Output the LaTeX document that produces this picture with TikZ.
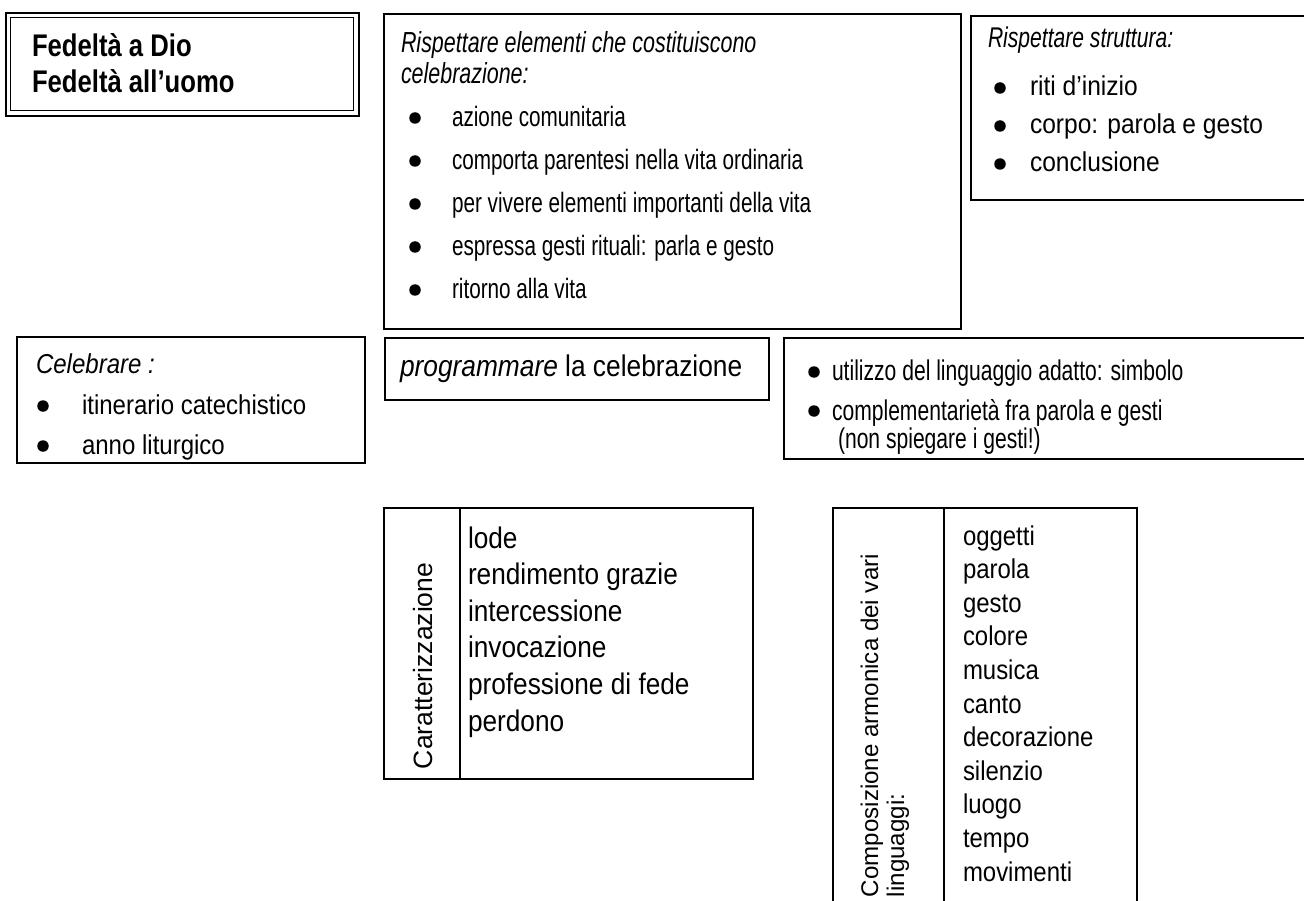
\documentclass[tikz,border=0pt]{standalone}
\usepackage{fontspec}
\setmainfont{Liberation Sans}[FakeStretch=0.88]
\newfontfamily\narrowfont{Liberation Sans}[FakeStretch=0.82]
\newfontfamily\condfont{Liberation Sans}[FakeStretch=0.74]
\newfontfamily\midfont{Liberation Sans}[FakeStretch=0.9]
\newfontfamily\rotfont{Liberation Sans}
\newcommand\fstitle{\narrowfont\bfseries\fontsize{31.3}{36}\selectfont}
\newcommand\fsbhead{\condfont\itshape\fontsize{29}{32}\selectfont}
\newcommand\fsbitem{\condfont\fontsize{28}{31}\selectfont}
\newcommand\fsshead{\condfont\itshape\fontsize{28.5}{31}\selectfont}
\newcommand\fssitem{\midfont\fontsize{27.3}{31}\selectfont}
\newcommand\fsbody{\fontsize{27.3}{31}\selectfont}
\newcommand\fsbul{\condfont\fontsize{28.5}{32}\selectfont}
\newcommand\fsprog{\fontsize{29.9}{34}\selectfont}
\newcommand\fsleft{\fontsize{29.8}{34}\selectfont}
\newcommand\fsright{\fontsize{27.2}{31}\selectfont}
\newcommand\fsrotA{\rotfont\fontsize{26.5}{29}\selectfont}
\newcommand\fsrotB{\rotfont\fontsize{24.1}{27}\selectfont}
\begin{document}
\begin{tikzpicture}[x=1pt,y=-1pt,
  box/.style={draw, line width=1.8pt, inner sep=0pt, anchor=north west},
  t/.style={anchor=base west, inner sep=0pt, outer sep=0pt},
  dot/.style={circle, fill=black, inner sep=0pt, minimum size=11.5pt},
  rot/.style={anchor=base west, inner sep=0pt, outer sep=0pt, rotate=90}]
\useasboundingbox (0,0) rectangle (1304,901);
\clip (0,0) rectangle (1304,901);
% title double frame
\node[box, line width=2.4pt, minimum width=353pt, minimum height=103pt] (tout) at (5,12) {};
\node[box, line width=1.2pt, minimum width=343pt, minimum height=93pt] (tin) at (10,17) {};
\node[t, font=\fstitle] (t1) at (32,57) {Fedeltà a Dio};
\node[t, font=\fstitle] (t2) at (32,93) {Fedeltà all’uomo};
% box 2
\node[box, minimum width=577pt, minimum height=315pt] (b2) at (383,13) {};
\node[t, font=\fsbhead] (b2h1) at (401,53) {Rispettare elementi che costituiscono};
\node[t, font=\fsbhead] (b2h2) at (401,84) {celebrazione:};
\foreach \i/\yy/\txt in {1/118/azione comunitaria, 2/161/comporta parentesi nella vita ordinaria, 3/204/per vivere elementi importanti della vita, 4/247/espressa gesti rituali: parla e gesto, 5/290/ritorno alla vita}{
  \node[dot] (b2d\i) at (415,\yy) {};
  \node[t, font=\fsbitem] (b2l\i) at (452,\yy+9) {\txt};
}
% box 3
\node[box, minimum width=340pt, minimum height=184pt] (b3) at (970,15) {};
\node[t, font=\fsshead] (b3h) at (988,48) {Rispettare struttura:};
\foreach \i/\yy/\txt in {1/88/riti d’inizio, 2/126/corpo: parola e gesto, 3/164/conclusione}{
  \node[dot] (b3d\i) at (1000,\yy) {};
  \node[t, font=\fssitem] (b3l\i) at (1030,\yy+8) {\txt};
}
% celebrare
\node[box, minimum width=348pt, minimum height=126pt] (b4) at (16,336) {};
\node[t, font=\fsbody\itshape] (b4h) at (36,373) {Celebrare :};
\foreach \i/\yy/\txt in {1/406/itinerario catechistico, 2/446/anno liturgico}{
  \node[dot] (b4d\i) at (43,\yy) {};
  \node[t, font=\fsbody] (b4l\i) at (82,\yy+8) {\txt};
}
% programmare
\node[box, minimum width=384pt, minimum height=62pt] (b5) at (384,337) {};
\node[t, font=\fsprog] (b5t) at (400,377) {\textit{programmare} la celebrazione};
% bullets box
\node[box, minimum width=527pt, minimum height=121pt] (b6) at (783,337) {};
\node[dot] (b6d1) at (814,372) {};
\node[t, font=\fsbul] (b6l1) at (832,381) {utilizzo del linguaggio adatto: simbolo};
\node[dot] (b6d2) at (814,411) {};
\node[t, font=\fsbul] (b6l2) at (832,420) {complementarietà fra parola e gesti};
\node[t, font=\fsbul] (b6l3) at (838,448) {(non spiegare i gesti!)};
% left table
\node[box, minimum width=369pt, minimum height=271pt] (lt) at (383,507) {};
\draw[line width=1.8pt] (lt.north west -| 460,0) coordinate (ltd1) -- (lt.south west -| 460,0) coordinate (ltd2);
\node[rot, font=\fsrotA] (car) at (432,769) {Caratterizzazione};
\foreach \i/\txt in {0/lode, 1/rendimento grazie, 2/intercessione, 3/invocazione, 4/professione di fede, 5/perdono}{
  \node[t, font=\fsleft] (ll\i) at (468,548+36.6*\i) {\txt};
}
% right table
\node[box, minimum width=304pt, minimum height=430pt] (rt) at (832,507) {};
\draw[line width=1.8pt] (rt.north west -| 944,0) coordinate (rtd1) -- (rt.south west -| 944,0) coordinate (rtd2);
\node[rot, font=\fsrotB] (comp1) at (878,897) {Composizione armonica dei vari};
\node[rot, font=\fsrotB] (comp2) at (904,897) {linguaggi:};
\foreach \i/\txt in {0/oggetti, 1/parola, 2/gesto, 3/colore, 4/musica, 5/canto, 6/decorazione, 7/silenzio, 8/luogo, 9/tempo, 10/movimenti}{
  \node[t, font=\fsright] (rl\i) at (963,545+33.6*\i) {\txt};
}
\end{tikzpicture}
\end{document}
